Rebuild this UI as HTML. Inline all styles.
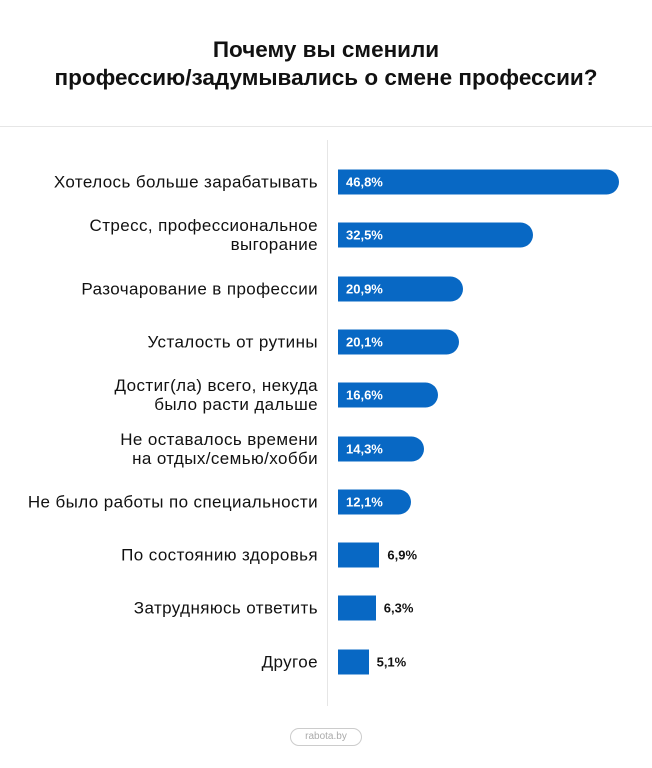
<!DOCTYPE html>
<html><head><meta charset="utf-8"><style>
body{margin:0;width:652px;height:768px;background:#fff;font-family:"Liberation Sans","Noto Sans CJK SC",sans-serif;position:relative;overflow:hidden}
.title{position:absolute;top:36px;left:0;width:652px;text-align:center;font-weight:bold;font-size:22.5px;line-height:28px;color:#111}
.hr{position:absolute;top:126px;left:0;width:652px;height:1px;background:#e6e6e6}
.axis{position:absolute;left:327px;top:140px;width:1px;height:566px;background:#e6e6e6}
.lbl{position:absolute;right:334px;text-align:right;font-size:17px;letter-spacing:0.4px;line-height:19px;color:#111;transform:translateY(-50%);white-space:nowrap}
.bar{position:absolute;left:338px;height:25px;background:#0868c4;transform:translateY(-50%)}
.val{position:absolute;font-weight:bold;font-size:13px;transform:translateY(-50%)}
.wm{position:absolute;left:290px;top:728px;width:70px;height:16px;border:1px solid #ccc;border-radius:9px;font-size:10px;color:#aaa;text-align:center;line-height:16px}
</style></head><body>
<div class="title">Почему вы сменили<br>профессию/задумывались о смене профессии?</div>
<div class="hr"></div>
<div class="axis"></div>
<div id="chart"></div>
<div class="wm">rabota.by</div>
<script>
const categories=["Хотелось больше зарабатывать","Стресс, профессиональное<br>выгорание","Разочарование в профессии","Усталость от рутины","Достиг(ла) всего, некуда<br>было расти дальше","Не оставалось времени<br>на отдых/семью/хобби","Не было работы по специальности","По состоянию здоровья","Затрудняюсь ответить","Другое"];
const values=[46.8,32.5,20.9,20.1,16.6,14.3,12.1,6.9,6.3,5.1];
const valueLabels=["46,8%","32,5%","20,9%","20,1%","16,6%","14,3%","12,1%","6,9%","6,3%","5,1%"];
const xScale=v=>v*6.0;
const yPos=i=>182+i*53.3;
const c=document.getElementById('chart');
values.forEach((v,i)=>{
  const y=yPos(i),w=xScale(v);
  const l=document.createElement('div');l.className='lbl';l.style.top=y+'px';l.innerHTML=categories[i];
  
  
  c.appendChild(l);
  const b=document.createElement('div');b.className='bar';b.style.top=y+'px';b.style.width=w+'px';
  const inside=v>=10;
  if(inside)b.style.borderRadius='0 13px 13px 0';
  
  
  c.appendChild(b);
  const t=document.createElement('div');t.className='val';t.style.top=y+'px';t.textContent=valueLabels[i];
  if(inside){t.style.left='346px';t.style.color='#fff';}else{t.style.left=(338+w+8)+'px';t.style.color='#111';}
  
  
  c.appendChild(t);
});
</script>
</body></html>
